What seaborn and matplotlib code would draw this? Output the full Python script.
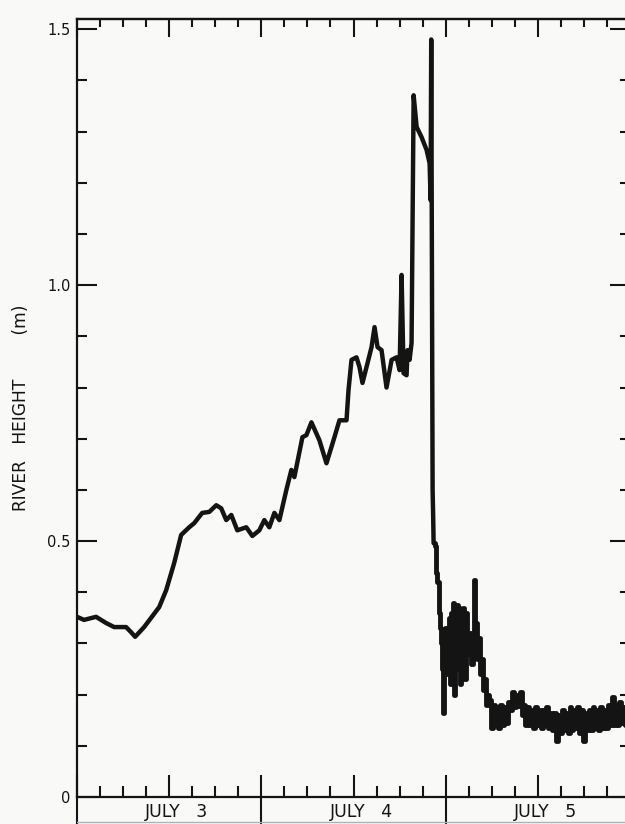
import numpy as np
import pandas as pd
import matplotlib
matplotlib.use("Agg")
import matplotlib.pyplot as plt
import seaborn as sns
from matplotlib.ticker import MultipleLocator, FixedLocator, NullFormatter

# ---------------- data (hours since July 3, 00:00 ; river height in m) -------------
hours_rise = [0.0, 0.91, 2.48, 3.78, 4.83, 6.39, 7.04, 7.57, 8.74, 10.70, 11.61, 12.65,
              13.56, 14.61, 15.26, 16.30, 17.22, 18.13, 18.78, 19.43, 20.09, 20.87, 22.04,
              22.83, 23.74, 24.39, 25.04, 25.70, 26.35, 27.26, 27.91, 28.30, 29.35, 29.87,
              30.52, 31.56, 32.48, 33.52, 34.17, 35.09, 35.35, 35.74, 36.39, 36.78, 37.17,
              37.83, 38.35, 38.74, 39.13, 39.65, 40.30, 40.96, 41.61, 42.00, 42.26, 42.52,
              42.91, 43.04, 43.30, 43.56, 43.83, 44.22, 44.87, 45.52, 45.91, 46.04, 46.12,
              46.30, 46.37, 46.43]
height_rise = [0.352, 0.346, 0.352, 0.340, 0.332, 0.332, 0.322, 0.313, 0.332, 0.371, 0.404,
               0.457, 0.512, 0.527, 0.535, 0.555, 0.557, 0.570, 0.564, 0.541, 0.551, 0.521,
               0.527, 0.510, 0.521, 0.541, 0.527, 0.555, 0.541, 0.600, 0.639, 0.625, 0.703,
               0.707, 0.732, 0.697, 0.652, 0.703, 0.736, 0.736, 0.795, 0.854, 0.859, 0.840,
               0.809, 0.848, 0.879, 0.918, 0.879, 0.873, 0.800, 0.854, 0.859, 0.834, 1.020,
               0.828, 0.824, 0.873, 0.854, 0.887, 1.371, 1.309, 1.289, 1.264, 1.238, 1.166,
               1.480, 0.600, 0.550, 0.496]

hours_fall = [46.43, 46.70, 46.82, 46.95, 47.22, 47.35, 47.48, 47.61, 47.74, 47.87, 48.00,
              48.13, 48.26, 48.39, 48.52, 48.65, 48.78, 48.91, 49.04, 49.17, 49.30, 49.43,
              49.56, 49.69, 49.82, 49.95, 50.09, 50.22, 50.35, 50.48, 50.74, 50.87, 51.13,
              51.39, 51.65, 51.78, 51.91, 52.04, 52.17, 52.43, 52.56, 52.82, 52.95, 53.21,
              53.34, 53.61,
              53.75, 54.00, 54.25, 54.50, 54.75, 55.00, 55.25, 55.50, 55.75, 56.00, 56.25,
              56.50, 56.75, 57.00, 57.25, 57.50, 57.75, 58.00, 58.25, 58.50, 58.75, 59.00,
              59.25, 59.50, 59.75, 60.00, 60.25, 60.50, 60.75, 61.00, 61.25, 61.50, 61.75,
              62.00, 62.25, 62.50, 62.75, 63.00, 63.25, 63.50, 63.75, 64.00, 64.25, 64.50,
              64.75, 65.00, 65.25, 65.50, 65.75, 66.00, 66.25, 66.50, 66.75, 67.00, 67.25,
              67.50, 67.75, 68.00, 68.25, 68.50, 68.75, 69.00, 69.25, 69.50, 69.75, 70.00,
              70.25, 70.50, 70.75, 71.00, 71.25, 71.50, 71.75]
height_fall = [0.496, 0.49, 0.437, 0.42, 0.36, 0.33, 0.30, 0.25, 0.164, 0.30, 0.33, 0.24,
               0.32, 0.26, 0.35, 0.22, 0.36, 0.30, 0.379, 0.20, 0.37, 0.28, 0.375, 0.25,
               0.37, 0.22, 0.36, 0.27, 0.37, 0.23, 0.36, 0.28, 0.32, 0.26, 0.30, 0.424,
               0.30, 0.34, 0.27, 0.31, 0.24, 0.27, 0.21, 0.23, 0.18, 0.20,
               0.19, 0.135, 0.18, 0.14, 0.175, 0.135, 0.18, 0.14, 0.175, 0.145, 0.185,
               0.17, 0.205, 0.175, 0.20, 0.178, 0.205, 0.16, 0.18, 0.14, 0.175, 0.14,
               0.17, 0.135, 0.175, 0.14, 0.17, 0.135, 0.17, 0.14, 0.175, 0.135, 0.165,
               0.13, 0.165, 0.11, 0.16, 0.125, 0.17, 0.13, 0.165, 0.125, 0.175, 0.13,
               0.17, 0.135, 0.175, 0.125, 0.17, 0.11, 0.165, 0.13, 0.17, 0.13, 0.175,
               0.135, 0.17, 0.13, 0.175, 0.135, 0.17, 0.135, 0.18, 0.14, 0.195, 0.14,
               0.18, 0.14, 0.185, 0.145, 0.175, 0.14, 0.17]

day_labels = ["JULY   3", "JULY   4", "JULY   5"]
day_label_pos = [13, 37, 61]
day_bounds = [0, 24, 48, 72]
y_major = [0, 0.5, 1.0, 1.5]
y_major_labels = ["0", "0.5", "1.0", "1.5"]

df_rise = pd.DataFrame({"hours": hours_rise, "height": height_rise})
df_fall = pd.DataFrame({"hours": hours_fall, "height": height_fall})

# ---------------- styling ----------------
sns.set_theme(style="ticks")
plt.rcParams["font.family"] = ["DejaVu Sans"]
bg = "#f9faf7"
ink = "#141414"

W, H = 625, 824
fig = plt.figure(figsize=(W / 100, H / 100), dpi=100, facecolor=bg)
ax = fig.add_axes([77 / W, 27 / H, 553 / W, 778 / H])
ax.set_facecolor(bg)

sns.lineplot(data=df_rise, x="hours", y="height", color=ink, lw=3.2, sort=False,
             estimator=None, ax=ax)
sns.lineplot(data=df_fall, x="hours", y="height", color=ink, lw=3.5, sort=False,
             estimator=None, drawstyle="steps-mid", ax=ax)

ax.set_xlim(0, 72)
ax.set_ylim(0, 1.52)
ax.set_xlabel("")

for s in ax.spines.values():
    s.set_linewidth(1.6)
    s.set_color(ink)

# x ticks (bottom)
ax.xaxis.set_major_locator(MultipleLocator(12))
ax.xaxis.set_minor_locator(MultipleLocator(3))
ax.xaxis.set_major_formatter(NullFormatter())
ax.tick_params(axis="x", which="major", direction="in", length=16, width=1.5,
               bottom=True, top=False, labelbottom=False, color=ink)
ax.tick_params(axis="x", which="minor", direction="in", length=8, width=1.5,
               bottom=True, top=False, color=ink)

# x ticks (top)
sec = ax.secondary_xaxis("top")
sec.xaxis.set_major_locator(MultipleLocator(12))
sec.xaxis.set_minor_locator(MultipleLocator(3))
sec.xaxis.set_major_formatter(NullFormatter())
sec.tick_params(axis="x", which="major", direction="in", length=13, width=1.5,
                labeltop=False, color=ink)
sec.tick_params(axis="x", which="minor", direction="in", length=6, width=1.5, color=ink)
sec.spines["top"].set_linewidth(1.6)
sec.spines["top"].set_color(ink)

# y ticks
ax.yaxis.set_major_locator(FixedLocator(y_major))
ax.yaxis.set_minor_locator(MultipleLocator(0.1))
ax.set_yticklabels(y_major_labels)
ax.tick_params(axis="y", which="major", direction="in", length=14.5, width=1.5,
               left=True, right=True, labelsize=10.5, pad=4.5, colors=ink)
ax.tick_params(axis="y", which="minor", direction="in", length=7, width=1.5,
               left=True, right=True, color=ink)

# y label
ax.set_ylabel("RIVER   HEIGHT        (m)", fontsize=12.3, color=ink)
ax.yaxis.label.set_va("center")
ax.yaxis.set_label_coords((21 - 77) / 553, 0.5)

# date strip below the axis
xt = ax.get_xaxis_transform()
strip = -(824 - 797) / 778
for b in day_bounds:
    ax.plot([b, b], [0, strip], transform=xt, clip_on=False, color=ink, lw=1.5)
ax.plot([0, 72], [-(822 - 797) / 778] * 2, transform=xt, clip_on=False,
        color="#aab3bc", lw=1.0)
for c, lab in zip(day_label_pos, day_labels):
    ax.text(c, -(812 - 797) / 778, lab, transform=xt, ha="center", va="center",
            fontsize=12.5, color=ink)

fig.savefig("out.png", dpi=100, facecolor=bg)
